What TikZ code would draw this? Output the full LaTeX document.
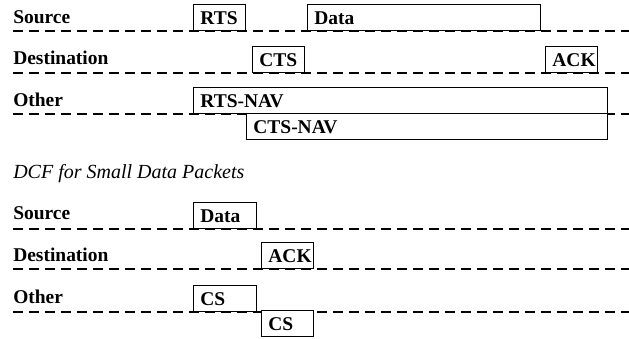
\documentclass[tikz,border=0pt]{standalone}
\usepackage{fontspec}
\setmainfont{Liberation Serif}
\usepackage{tikz}
\usetikzlibrary{positioning}

\tikzset{
  dashline/.style={line width=1.1pt, dash pattern=on 7.5pt off 4.5pt},
  rowlabel/.style={anchor=base west, inner sep=0pt, font=\fontsize{14.6}{16}\selectfont\bfseries},
  pkt/.style={draw, fill=white, line width=1.1pt, anchor=south west,
    text width=#1, align=left, inner xsep=5pt, inner ysep=3.6pt,
    text height=11.3pt, text depth=1pt,
    font=\fontsize{14.6}{16}\selectfont\bfseries}
}

\begin{document}
\begin{tikzpicture}[x=0.75pt, y=-0.75pt]

\useasboundingbox (0,0) rectangle (629,339);

% RTS/CTS exchange: time lines
\draw[dashline] (13,31) -- (629,31);
\draw[dashline] (13,73) -- (629,73);
\draw[dashline] (13,114) -- (629,114);

\node[rowlabel] (src) at (13,23) {Source};
\node[rowlabel] (dst) at (13,64) {Destination};
\node[rowlabel] (oth) at (13,106) {Other};

% Frames
\node[pkt=29pt] (rts) at (193,31) {RTS};
\node[pkt=164.75pt] (data) at (307,31) {Data};
\node[pkt=29pt] (cts) at (252,73) {CTS};
\node[pkt=29pt] (ack) at (545,73) {ACK};

% NAV of the other stations
\node[pkt=300.5pt] (rtsnav) at (193,114) {RTS-NAV};
\node[pkt=260.75pt] (ctsnav) at (246,140) {CTS-NAV};

% Small packets
\node[anchor=base west, inner sep=0pt, font=\fontsize{15}{17}\selectfont\itshape] (dcf) at (13,178) {DCF for Small Data Packets};

\draw[dashline] (13,229) -- (629,229);
\draw[dashline] (13,269) -- (629,269);
\draw[dashline] (13,312) -- (629,312);

\node[rowlabel] (src2) at (13,219) {Source};
\node[rowlabel] (dst2) at (13,261) {Destination};
\node[rowlabel] (oth2) at (13,303) {Other};

\node[pkt=37.25pt] (data2) at (193,229) {Data};
\node[pkt=29pt] (ack2) at (261,269) {ACK};
\node[pkt=37.25pt] (cs) at (193,312) {CS};
\node[pkt=29pt] (cs2) at (261,337) {CS};

\end{tikzpicture}
\end{document}
